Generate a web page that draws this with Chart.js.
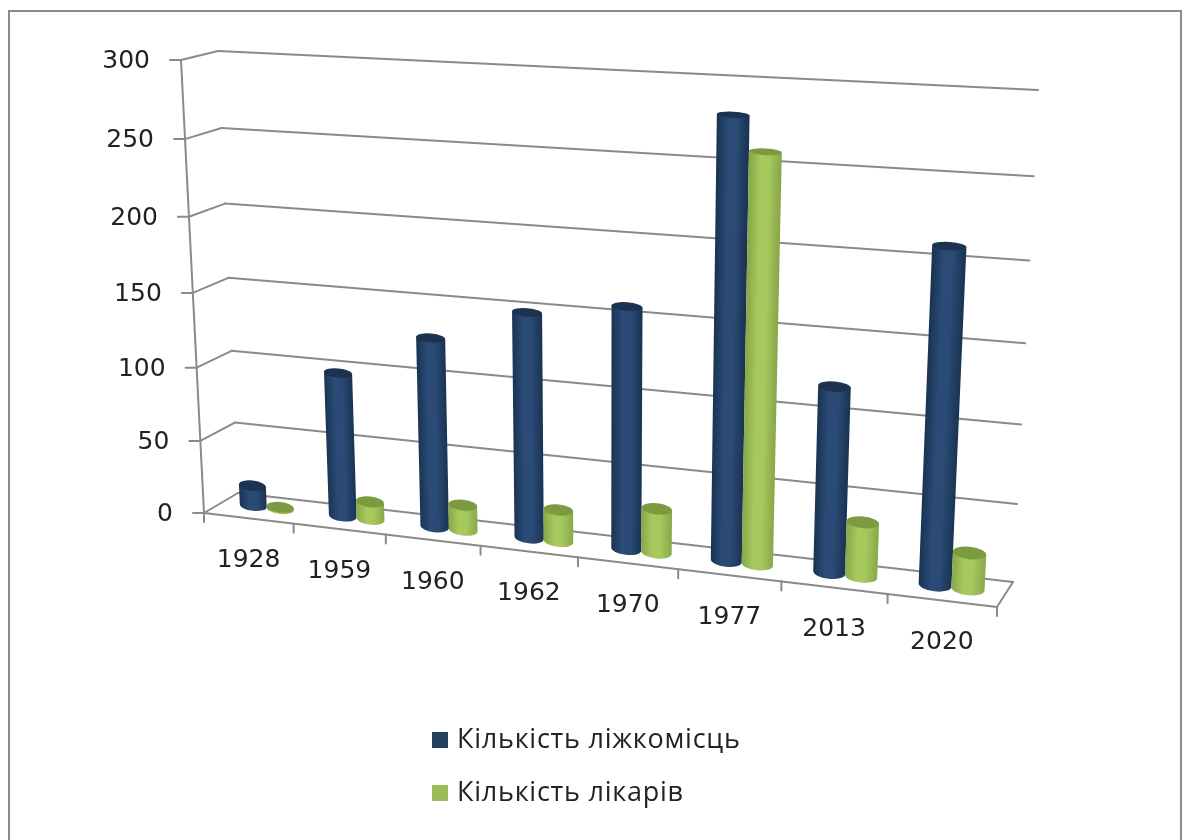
<!DOCTYPE html>
<html lang="uk">
<head>
<meta charset="utf-8">
<title>Кількість ліжкомісць і лікарів</title>
<style>
  html, body { margin: 0; padding: 0; background: #fff; }
  canvas { display: block; }
</style>
<script src="https://cdn.jsdelivr.net/npm/chart.js@4"></script>
</head>
<body>
<canvas id="chart" width="1184" height="840"></canvas>
<script>
// Chart values
const years = ['1928', '1959', '1960', '1962', '1970', '1977', '2013', '2020'];
const beds = [14, 98, 127, 149, 158, 280, 119, 210];
const doctors = [1, 12, 17, 21, 29, 259, 35, 23];
const bedsLabel = 'Кількість ліжкомісць';
const doctorsLabel = 'Кількість лікарів';

// Series colours: legend swatch, lit centre, shaded edge, cap
const bedsPalette = { swatch: '#254061', mid: '#2a4b75', edge: '#1a3353', cap: '#1b3351' };
const doctorsPalette = { swatch: '#9bbb59', mid: '#a6c85d', edge: '#88a748', cap: '#7c9b40' };

const GRID = '#8a8a8a';
const TEXT = '#222222';
const TICK_FONT = '25px "DejaVu Sans"';
const LEGEND_FONT = '27px "Open Sans"';

// Corners of the 3D box on screen: bottom-left, bottom-right, top-right, top-left
const frontQuad = [[204, 513], [997, 607], [1023, 102], [181, 60]];
const backQuad = [[238, 493], [1013, 582], [1038, 90], [218, 51]];
const BAR_DEPTH = 0.55;
const CAP_DEPTH = 0.26;

// Perspective map from the unit square onto a quadrilateral
function homography(q) {
  const [p0, p1, p2, p3] = q;
  const dx1 = p1[0] - p2[0], dx2 = p3[0] - p2[0], sx = p0[0] - p1[0] + p2[0] - p3[0];
  const dy1 = p1[1] - p2[1], dy2 = p3[1] - p2[1], sy = p0[1] - p1[1] + p2[1] - p3[1];
  const den = dx1 * dy2 - dx2 * dy1;
  const g = (sx * dy2 - dx2 * sy) / den;
  const h = (dx1 * sy - sx * dy1) / den;
  const a = p1[0] - p0[0] + g * p1[0], b = p3[0] - p0[0] + h * p3[0], c = p0[0];
  const d = p1[1] - p0[1] + g * p1[1], e = p3[1] - p0[1] + h * p3[1], f = p0[1];
  return (u, v) => {
    const w = g * u + h * v + 1;
    return { x: (a * u + b * v + c) / w, y: (d * u + e * v + f) / w };
  };
}
const front = homography(frontQuad);
const back = homography(backQuad);

// Screen position of a point given in box coordinates; depth 0 is the front face
function project(u, v, depth) {
  const f = front(u, v), b = back(u, v);
  return { x: f.x + (b.x - f.x) * depth, y: f.y + (b.y - f.y) * depth };
}

function line(ctx, a, b) {
  ctx.beginPath();
  ctx.moveTo(a.x, a.y);
  ctx.lineTo(b.x, b.y);
  ctx.stroke();
}

function drawWalls(chart) {
  const { ctx, chartArea: area, scales: { x, y } } = chart;
  ctx.save();
  ctx.strokeStyle = GRID;
  ctx.lineWidth = 2;
  ctx.lineCap = 'round';
  for (const tick of y.ticks) {
    const v = (area.bottom - y.getPixelForValue(tick.value)) / area.height;
    const f = project(0, v, 0);
    const bl = project(0, v, 1);
    const br = project(1, v, 1);
    line(ctx, f, bl);
    line(ctx, bl, br);
    line(ctx, f, { x: f.x - 11, y: f.y });
  }
  line(ctx, project(0, 0, 0), project(0, 1, 0));
  line(ctx, project(0, 0, 0), project(1, 0, 0));
  line(ctx, project(1, 0, 0), project(1, 0, 1));
  const n = x.ticks.length;
  for (let i = 0; i <= n; i++) {
    const p = project(i / n, 0, 0);
    line(ctx, p, { x: p.x, y: p.y + 9 });
  }
  ctx.restore();
}

// One cylinder, built from the bar element that the bar controller laid out
function drawCylinder(chart, el, palette) {
  const { ctx, chartArea: area } = chart;
  const { x, y, base, width } = el.getProps(['x', 'y', 'base', 'width'], true);
  const toU = (px) => (px - area.left) / area.width;
  const toV = (py) => (area.bottom - py) / area.height;
  const uL = toU(x - width / 2), uR = toU(x + width / 2), uC = toU(x);
  const vB = toV(base), vT = toV(y);

  const bL = project(uL, vB, BAR_DEPTH), bR = project(uR, vB, BAR_DEPTH);
  const tL = project(uL, vT, BAR_DEPTH), tR = project(uR, vT, BAR_DEPTH);
  const ellipseOf = (l, r, v) => ({
    cx: (l.x + r.x) / 2,
    cy: (l.y + r.y) / 2,
    rx: Math.hypot(r.x - l.x, r.y - l.y) / 2,
    ry: Math.abs(front(uC, v).y - back(uC, v).y) * CAP_DEPTH,
    rot: Math.atan2(r.y - l.y, r.x - l.x)
  });
  const bot = ellipseOf(bL, bR, vB);
  const top = ellipseOf(tL, tR, vT);

  ctx.save();
  ctx.beginPath();
  ctx.moveTo(tL.x, tL.y);
  ctx.lineTo(bL.x, bL.y);
  ctx.ellipse(bot.cx, bot.cy, bot.rx, bot.ry, bot.rot, Math.PI, 0, true);
  ctx.lineTo(tR.x, tR.y);
  ctx.closePath();
  // Shear the gradient so the shading follows the lean of the column
  const dy = top.cy - bot.cy;
  const k = Math.abs(dy) > 1 ? (top.cx - bot.cx) / dy : 0;
  ctx.transform(1, 0, k, 1, -k * bot.cy, 0);
  const grad = ctx.createLinearGradient(bot.cx - bot.rx, 0, bot.cx + bot.rx, 0);
  grad.addColorStop(0, palette.edge);
  grad.addColorStop(0.35, palette.mid);
  grad.addColorStop(0.62, palette.mid);
  grad.addColorStop(1, palette.edge);
  ctx.fillStyle = grad;
  ctx.fill();
  ctx.restore();

  ctx.beginPath();
  ctx.ellipse(top.cx, top.cy, top.rx, top.ry, top.rot, 0, Math.PI * 2);
  ctx.fillStyle = palette.cap;
  ctx.fill();
}

function drawLabels(chart) {
  const { ctx, chartArea: area, scales: { x, y } } = chart;
  ctx.save();
  ctx.fillStyle = TEXT;
  ctx.font = TICK_FONT;
  ctx.textBaseline = 'middle';

  ctx.textAlign = 'right';
  for (const tick of y.ticks) {
    const v = (area.bottom - y.getPixelForValue(tick.value)) / area.height;
    const p = project(0, v, 0);
    ctx.fillText(String(tick.value), p.x - 31, p.y + 1.5);
  }

  ctx.textAlign = 'center';
  x.getLabels().forEach((label, i) => {
    const u = (x.getPixelForValue(i) - area.left) / area.width;
    const p = project(u, 0, 0);
    ctx.fillText(label, p.x, p.y + 42);
  });

  // Stacked legend below the box
  ctx.textAlign = 'left';
  ctx.font = LEGEND_FONT;
  ctx.letterSpacing = '0.75px';
  chart.data.datasets.forEach((ds, i) => {
    const rowY = 740 + i * 53;
    ctx.fillStyle = ds.backgroundColor;
    ctx.fillRect(432, rowY - 8, 16, 16);
    ctx.fillStyle = TEXT;
    ctx.fillText(ds.label, 457, rowY);
  });
  ctx.restore();
}

const box3d = {
  id: 'box3d',
  beforeDraw(chart) {
    const { ctx } = chart;
    ctx.save();
    ctx.fillStyle = '#ffffff';
    ctx.fillRect(0, 0, chart.width, chart.height);
    ctx.strokeStyle = '#8c8c8c';
    ctx.lineWidth = 2;
    ctx.strokeRect(9, 11, 1172, 860);
    ctx.restore();
    drawWalls(chart);
  },
  // The columns are painted here as cylinders instead of flat rectangles
  beforeDatasetsDraw(chart) {
    const palettes = [bedsPalette, doctorsPalette];
    const n = chart.data.labels.length;
    for (let i = 0; i < n; i++) {
      chart.data.datasets.forEach((ds, d) => {
        drawCylinder(chart, chart.getDatasetMeta(d).data[i], palettes[d]);
      });
    }
    return false;
  },
  afterDraw: drawLabels
};

new Chart(document.getElementById('chart'), {
  type: 'bar',
  data: {
    labels: years,
    datasets: [
      { label: bedsLabel, data: beds, backgroundColor: bedsPalette.swatch },
      { label: doctorsLabel, data: doctors, backgroundColor: doctorsPalette.swatch }
    ]
  },
  options: {
    responsive: false,
    animation: false,
    layout: { padding: 0 },
    categoryPercentage: 0.61,
    barPercentage: 1,
    plugins: { legend: { display: false }, tooltip: { enabled: false } },
    scales: {
      x: {
        grid: { display: false },
        border: { display: false },
        ticks: { display: false }
      },
      y: {
        min: 0,
        max: 300,
        grid: { display: false },
        border: { display: false },
        ticks: { display: false, stepSize: 50 }
      }
    }
  },
  plugins: [box3d]
});
</script>
</body>
</html>
